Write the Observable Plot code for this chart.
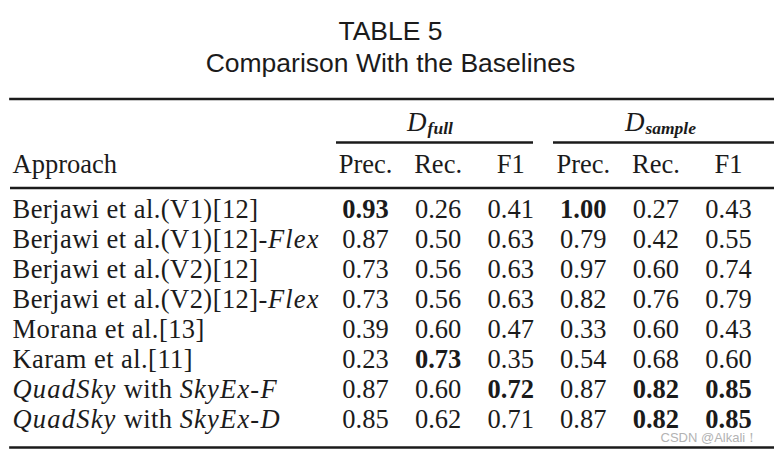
<!DOCTYPE html>
<html><head><meta charset="utf-8">
<script src="https://cdn.jsdelivr.net/npm/d3@7"></script>
<script src="https://cdn.jsdelivr.net/npm/@observablehq/plot@0.6"></script>
<style>html,body{margin:0;padding:0;background:#fff} svg{display:block}</style>
</head><body><div id="chart"></div>
<script>
const title = "TABLE 5";
const subtitle = "Comparison With the Baselines";
const rowHeader = "Approach";
// "_..._" marks italic segments
const approaches = [
  "Berjawi et al.(V1)[12]",
  "Berjawi et al.(V1)[12]-_Flex_",
  "Berjawi et al.(V2)[12]",
  "Berjawi et al.(V2)[12]-_Flex_",
  "Morana et al.[13]",
  "Karam et al.[11]",
  "_QuadSky_ with _SkyEx-F_",
  "_QuadSky_ with _SkyEx-D_"
];
const datasets = ["full", "sample"];
const metrics = ["Prec.", "Rec.", "F1"];
const fullPrec   = [0.93, 0.87, 0.73, 0.73, 0.39, 0.23, 0.87, 0.85];
const fullRec    = [0.26, 0.50, 0.56, 0.56, 0.60, 0.73, 0.60, 0.62];
const fullF1     = [0.41, 0.63, 0.63, 0.63, 0.47, 0.35, 0.72, 0.71];
const samplePrec = [1.00, 0.79, 0.97, 0.82, 0.33, 0.54, 0.87, 0.87];
const sampleRec  = [0.27, 0.42, 0.60, 0.76, 0.60, 0.68, 0.82, 0.82];
const sampleF1   = [0.43, 0.55, 0.74, 0.79, 0.43, 0.60, 0.85, 0.85];
const watermark = "CSDN @Alkali！";

// ---- build table ----
const series = {full: [fullPrec, fullRec, fullF1], sample: [samplePrec, sampleRec, sampleF1]};
const columns = datasets.flatMap(ds => metrics.map((m, j) => ({dataset: ds, metric: m, values: series[ds][j]})));
const colKey = c => c.dataset + "|" + c.metric;
const cells = columns.flatMap(c => {
  const best = d3.max(c.values);
  return c.values.map((v, i) => ({col: colKey(c), row: approaches[i], value: v, best: v === best}));
});
const fmt = d3.format(".2f");
const strip = s => s.replace(/_/g, "");

const ink = "#1b1b1b";
const serif = "'Liberation Serif', 'Times New Roman', serif";
const sans = "'Liberation Sans', Arial, sans-serif";
const fs = 26.5;

const svg = Plot.plot({
  width: 774, height: 452,
  marginTop: 98.5, marginBottom: 5, marginLeft: 10, marginRight: 0,
  style: {fontFamily: serif, fontSize: fs + "px", color: ink, background: "#fff", overflow: "hidden"},
  x: {type: "point", domain: columns.map(colKey), range: [365, 728], padding: 0, round: false, axis: null},
  y: {type: "point", domain: approaches, range: [217, 427], padding: 0, round: false, axis: null},
  marks: [
    // title
    Plot.text([title], {frameAnchor: "top", dx: -2, dy: -59.2, lineAnchor: "bottom", fontFamily: sans, fontSize: 26.5, fill: ink}),
    Plot.text([subtitle], {frameAnchor: "top", dx: -2, dy: -26.8, lineAnchor: "bottom", fontFamily: sans, fontSize: 26.5, fill: ink}),
    // rules
    Plot.frame({anchor: "top", stroke: ink, strokeWidth: 2.7}),
    Plot.frame({anchor: "bottom", stroke: ink, strokeWidth: 2.7}),
    Plot.ruleY([approaches[0]], {dy: -29.5, stroke: ink, strokeWidth: 2.7}),
    Plot.ruleY(["full"], {y: () => approaches[0], x1: d => d + "|Prec.", x2: d => d + "|F1", dy: -75, insetLeft: -29, insetRight: -22.8, stroke: ink, strokeWidth: 2.7}),
    Plot.ruleY(["sample"], {y: () => approaches[0], x1: d => d + "|Prec.", x2: d => d + "|F1", dy: -75, insetLeft: -29.8, insetRight: -50, stroke: ink, strokeWidth: 2.7}),
    // group headers
    Plot.text(datasets, {x: d => d + "|Rec.", text: d => "D" + d, frameAnchor: "top", dy: 31.5, dx: -31, textAnchor: "start", lineAnchor: "bottom", fill: ink, fontSize: 27}),
    // column headers
    Plot.text([rowHeader], {frameAnchor: "top-left", dx: 2, dy: 74, textAnchor: "start", lineAnchor: "bottom", fill: ink, fontSize: fs}),
    Plot.text(columns, {x: colKey, text: "metric", frameAnchor: "top", dy: 74, lineAnchor: "bottom", fill: ink, fontSize: fs}),
    // row labels
    Plot.text(approaches, {y: d => d, text: strip, frameAnchor: "left", dx: 2, textAnchor: "start", lineAnchor: "bottom", fill: ink, fontSize: fs}),
    // cells
    Plot.text(cells, {filter: d => !d.best, x: "col", y: "row", text: d => fmt(d.value), lineAnchor: "bottom", fill: ink, fontSize: fs}),
    Plot.text(cells, {filter: d => d.best, x: "col", y: "row", text: d => fmt(d.value), lineAnchor: "bottom", fill: ink, fontSize: fs, fontWeight: "bold"}),
    // watermark
    Plot.text([watermark], {frameAnchor: "bottom-left", dx: 650, dy: -5.5, textAnchor: "start", lineAnchor: "bottom", fill: "#b3b3b3", fontFamily: sans, fontSize: 13})
  ]
});

// ---- rich-text post-processing (italic segments, subscripts) ----
const NS = "http://www.w3.org/2000/svg";
const labelMarkup = new Map(approaches.map(a => [strip(a), a]));
svg.querySelectorAll("text").forEach(t => {
  const s = t.textContent;
  if (labelMarkup.has(s)) {
    const parts = labelMarkup.get(s).split("_");
    t.textContent = "";
    parts.forEach((p, i) => {
      if (!p) return;
      const ts = document.createElementNS(NS, "tspan");
      if (i % 2 === 1) {
        ts.setAttribute("font-style", "italic");
        ts.setAttribute("letter-spacing", "1.2");
      } else {
        ts.setAttribute("letter-spacing", "0.45");
      }
      ts.textContent = p;
      t.appendChild(ts);
    });
  } else if (datasets.some(d => s === "D" + d)) {
    const sub = s.slice(1);
    t.textContent = "";
    const a = document.createElementNS(NS, "tspan");
    a.setAttribute("font-style", "italic");
    a.textContent = "D";
    const b = document.createElementNS(NS, "tspan");
    b.setAttribute("font-style", "italic");
    b.setAttribute("font-weight", "bold");
    b.setAttribute("font-size", "17.5px");
    b.setAttribute("dy", "3.5");
    b.setAttribute("dx", "1");
    b.textContent = sub;
    t.appendChild(a); t.appendChild(b);
  }
});
document.getElementById("chart").appendChild(svg);
</script>
</body></html>
